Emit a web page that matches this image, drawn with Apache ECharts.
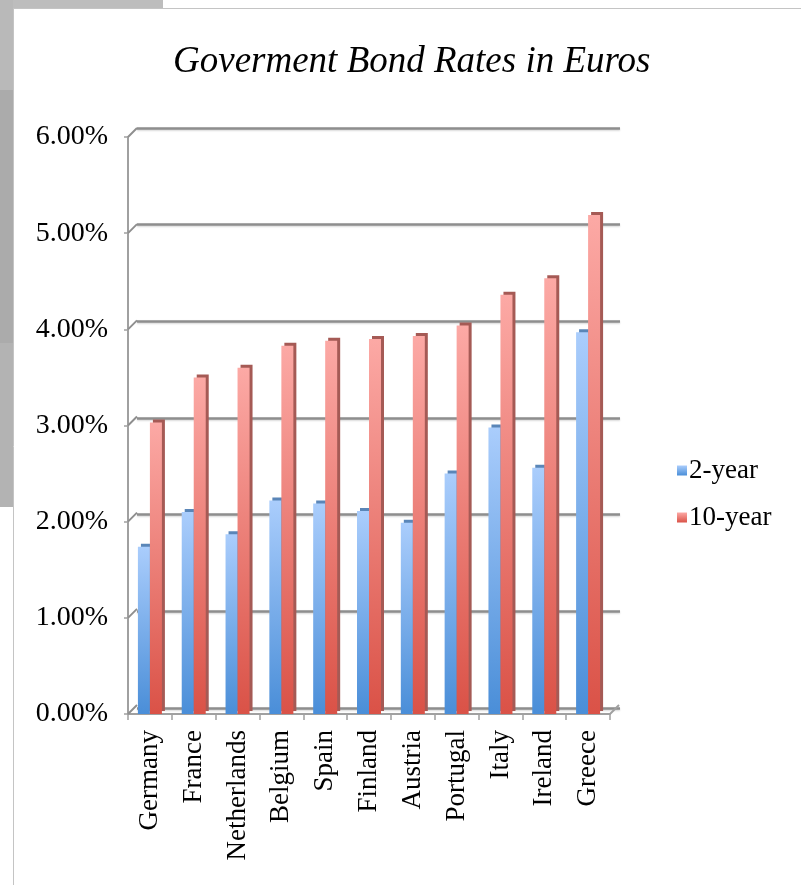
<!DOCTYPE html>
<html>
<head>
<meta charset="utf-8">
<script src="https://cdn.jsdelivr.net/npm/echarts@6/dist/echarts.min.js"></script>
<style>html,body{margin:0;padding:0;background:#fff}#c{width:801px;height:885px}</style>
</head>
<body>
<div id="c"></div>
<script>
var categories = ['Germany','France','Netherlands','Belgium','Spain','Finland','Austria','Portugal','Italy','Ireland','Greece'];
var twoYear = [1.74, 2.10, 1.87, 2.22, 2.19, 2.11, 1.99, 2.50, 2.98, 2.56, 3.97];
var tenYear = [3.03, 3.50, 3.60, 3.83, 3.88, 3.90, 3.93, 4.04, 4.36, 4.53, 5.19];
var yTicks = [0, 1, 2, 3, 4, 5, 6];

var serif = "'Liberation Serif','DejaVu Serif',serif";
var chart = echarts.init(document.getElementById('c'), null, {renderer: 'canvas'});

function grad(top, bottom) {
  return new echarts.graphic.LinearGradient(0, 0, 0, 1, [
    {offset: 0, color: top}, {offset: 1, color: bottom}
  ]);
}

var DEPTH = 9;

chart.setOption({
  backgroundColor: '#ffffff',
  animation: false,
  title: {
    text: 'Goverment Bond Rates in Euros',
    left: 168,
    top: 39,
    textStyle: {fontFamily: serif, fontStyle: 'italic', fontWeight: 'normal', fontSize: 37, color: '#000'}
  },
  legend: {
    orient: 'vertical',
    left: 672,
    top: 452,
    itemWidth: 10,
    itemHeight: 10,
    itemGap: 20,
    icon: 'rect',
    textStyle: {fontFamily: serif, fontSize: 27, color: '#000', padding: [0, 0, 0, -3]},
    data: ['2-year', '10-year']
  },
  graphic: [
    {type: 'rect', shape: {x: 0, y: 0, width: 163, height: 8}, style: {fill: '#bdbdbd'}, silent: true},
    {type: 'rect', shape: {x: 0, y: 0, width: 13, height: 90}, style: {fill: '#b9b9b9'}, silent: true},
    {type: 'rect', shape: {x: 0, y: 90, width: 13, height: 253}, style: {fill: '#ababab'}, silent: true},
    {type: 'rect', shape: {x: 0, y: 343, width: 13, height: 164}, style: {fill: '#b3b3b3'}, silent: true},
    {type: 'line', shape: {x1: 13.5, y1: 8, x2: 13.5, y2: 885}, style: {stroke: '#c4c4c4', lineWidth: 1}, silent: true},
    {type: 'line', shape: {x1: 13, y1: 8.5, x2: 801, y2: 8.5}, style: {stroke: '#c4c4c4', lineWidth: 1}, silent: true}
  ],
  grid: [
    {left: 128, right: 191, top: 137, bottom: 171},
    {left: 137, right: 181, top: 128, bottom: 177}
  ],
  xAxis: [
    {
      type: 'category', gridIndex: 0, data: categories,
      axisLine: {show: true, lineStyle: {color: '#a0a0a0', width: 2}},
      axisTick: {show: true, length: 6, lineStyle: {color: '#a0a0a0', width: 1.5}},
      axisLabel: {rotate: 90, margin: 16, fontFamily: serif, fontSize: 27, color: '#000'}
    },
    {
      type: 'category', gridIndex: 1, data: categories, show: false
    }
  ],
  yAxis: [
    {
      type: 'value', gridIndex: 0, min: 0, max: 6, interval: 1,
      axisLine: {show: true, lineStyle: {color: '#a0a0a0', width: 2}},
      axisTick: {show: true, length: 4, lineStyle: {color: '#a0a0a0', width: 1.5}},
      splitLine: {show: false},
      axisLabel: {margin: 20, fontFamily: serif, fontSize: 28, color: '#000',
        formatter: function (v) { return v.toFixed(2) + '%'; }}
    },
    {
      type: 'value', gridIndex: 1, min: 0, max: 6, interval: 1,
      axisLine: {show: false}, axisTick: {show: false}, axisLabel: {show: false},
      splitLine: {show: true, lineStyle: {color: '#8e8e8e', width: 2.5,
        shadowColor: 'rgba(0,0,0,0.18)', shadowBlur: 2, shadowOffsetY: 1}}
    }
  ],
  series: [
    {
      name: 'wall', type: 'custom', xAxisIndex: 0, yAxisIndex: 0, silent: true,
      data: yTicks.map(function (v) { return [0, v]; }),
      encode: {x: 0, y: 1},
      renderItem: function (params, api) {
        var y = api.coord([0, api.value(1)])[1];
        var cs = params.coordSys;
        var children = [{
          type: 'line',
          shape: {x1: cs.x, y1: y, x2: cs.x + DEPTH, y2: y - DEPTH},
          style: {stroke: '#8e8e8e', lineWidth: 2}
        }];
        if (api.value(1) === 0) {
          children.push({
            type: 'line',
            shape: {x1: cs.x + cs.width, y1: y, x2: cs.x + cs.width + DEPTH, y2: y - DEPTH},
            style: {stroke: '#a0a0a0', lineWidth: 2}
          });
        }
        return {type: 'group', children: children};
      },
      z: 1
    },
    {
      name: '2-year', type: 'bar', xAxisIndex: 0, yAxisIndex: 0,
      data: twoYear, barWidth: 12, barGap: '0%',
      itemStyle: {
        color: grad('#aacdfc', '#4a8ed8'),
        shadowColor: '#5a86b8', shadowOffsetX: 3, shadowOffsetY: -3, shadowBlur: 0
      },
      z: 3
    },
    {
      name: '10-year', type: 'bar', xAxisIndex: 0, yAxisIndex: 0,
      data: tenYear, barWidth: 12, barGap: '0%',
      itemStyle: {
        color: grad('#fca9a5', '#da5247'),
        shadowColor: '#a55a55', shadowOffsetX: 3, shadowOffsetY: -3, shadowBlur: 0
      },
      z: 3
    }
  ]
});
</script>
</body>
</html>
